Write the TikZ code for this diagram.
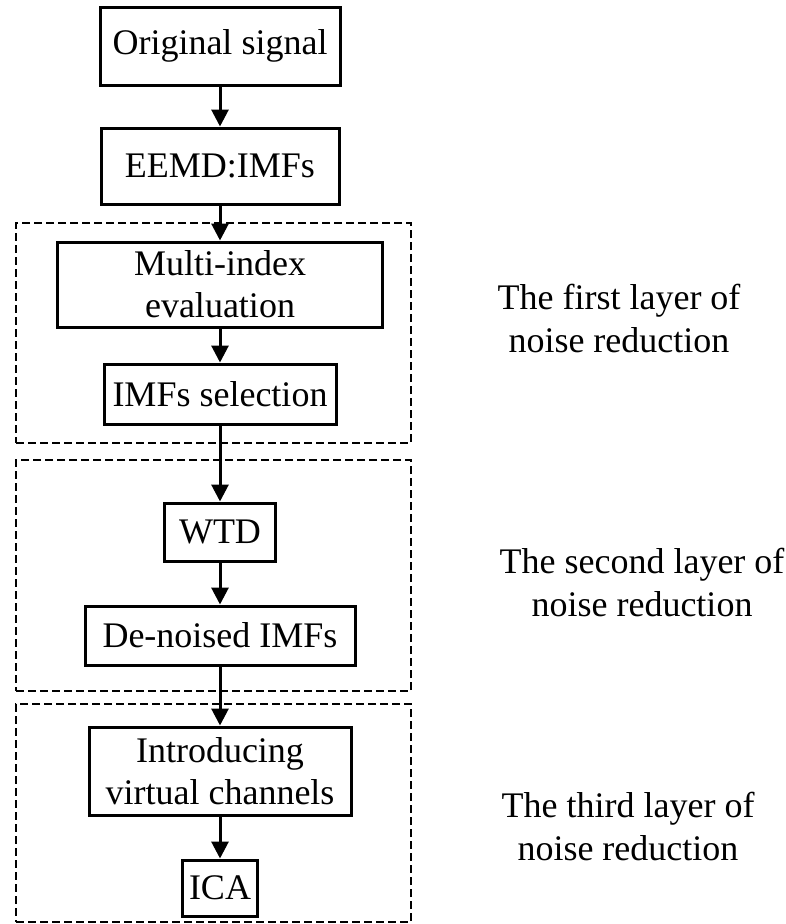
\documentclass[tikz,border=0pt]{standalone}
\usepackage{fontspec}
\setmainfont{Liberation Serif}
\usetikzlibrary{arrows.meta}

\begin{document}
\begin{tikzpicture}[x=1pt,y=-1pt,
  every node/.style={font=\fontsize{36}{42}\selectfont, inner sep=0pt},
  stepbox/.style={draw, line width=3pt, align=center},
  layerbox/.style={draw, line width=2.5pt, dash pattern=on 8pt off 4pt, minimum width=395pt},
  flow/.style={line width=3pt, -{Triangle[width=17pt,length=17pt]}},
  layertext/.style={align=center, font=\fontsize{36}{43}\selectfont}
]
\useasboundingbox (0,0) rectangle (786,924);

% dashed frames of the three noise-reduction layers
\node[layerbox, minimum height=220pt] (L1) at (213.5,333) {};
\node[layerbox, minimum height=231pt] (L2) at (213.5,575.5) {};
\node[layerbox, minimum height=218pt] (L3) at (213.5,813) {};

% processing steps
\node[stepbox, minimum width=240pt, minimum height=78pt] (orig) at (220,46) {Original signal};
\node[stepbox, minimum width=238pt, minimum height=76pt] (eemd) at (220,166) {EEMD:IMFs};
\node[stepbox, minimum width=325pt, minimum height=85pt] (multi) at (220,284.5) {Multi-index\\evaluation};
\node[stepbox, minimum width=232pt, minimum height=60pt] (sel) at (220,394) {IMFs selection};
\node[stepbox, minimum width=111pt, minimum height=58pt] (wtd) at (220,532) {WTD};
\node[stepbox, minimum width=270pt, minimum height=59pt] (den) at (220,635.5) {De-noised IMFs};
\node[stepbox, minimum width=262pt, minimum height=88pt] (virt) at (220,771) {Introducing\\virtual channels};
\node[stepbox, minimum width=75pt, minimum height=56pt] (ica) at (220,888) {ICA};

% connectors
\draw[flow] (orig) -- (eemd);
\draw[flow] (eemd) -- (multi);
\draw[flow] (multi) -- (sel);
\draw[flow] (sel) -- (wtd);
\draw[flow] (wtd) -- (den);
\draw[flow] (den) -- (virt);
\draw[flow] (virt) -- (ica);

% layer captions
\node[layertext] (t1) at (619,318.7) {The first layer of\\noise reduction};
\node[layertext] (t2) at (642,582.7) {The second layer of\\noise reduction};
\node[layertext] (t3) at (628,826.2) {The third layer of\\noise reduction};
\end{tikzpicture}
\end{document}
